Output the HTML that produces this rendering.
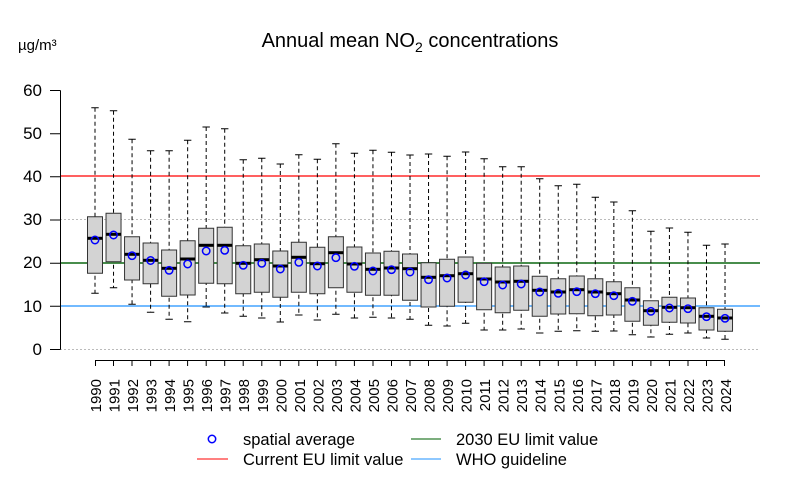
<!DOCTYPE html>
<html><head><meta charset="utf-8"><style>
body{margin:0;background:#fff}svg{display:block}
text{font-family:"Liberation Sans",Arial,sans-serif;fill:#000}
.w{stroke:#000;stroke-dasharray:4 3;fill:none}
.c{stroke:#000;fill:none}
.b{fill:#d3d3d3;stroke:#333}
.m{stroke:#000;stroke-width:3;fill:none}
.o{fill:none;stroke:#00f;stroke-width:1.5}
</style></head>
<body>
<svg width="800" height="500" viewBox="0 0 800 500" xmlns="http://www.w3.org/2000/svg">
<text x="410" y="47" font-size="20" text-anchor="middle">Annual mean NO<tspan font-size="14" dy="5">2</tspan><tspan dy="-5"> concentrations</tspan></text>
<text x="18" y="50" font-size="15">µg/m³</text>
<g stroke="#bbb" stroke-dasharray="2,2" stroke-width="1">
<line x1="60" x2="760" y1="219.5" y2="219.5"/><line x1="60" x2="760" y1="349.5" y2="349.5"/>
</g>
<line x1="60" x2="760" y1="176" y2="176" stroke="#f00" stroke-width="1.3"/>
<line x1="60" x2="760" y1="263" y2="263" stroke="#2e7d32" stroke-width="1.8"/>
<line x1="60" x2="760" y1="306" y2="306" stroke="#1e90ff" stroke-width="1.3"/>
<path d="M60.5 90.5V349.5M50 90.5H60.5M50 133.7H60.5M50 176.8H60.5M50 220H60.5M50 263.2H60.5M50 306.3H60.5M50 349.5H60.5" stroke="#000" fill="none"/>
<g font-size="17" text-anchor="end">
<text x="42" y="96">60</text><text x="42" y="139">50</text><text x="42" y="182">40</text><text x="42" y="225">30</text><text x="42" y="268">20</text><text x="42" y="312">10</text><text x="42" y="355">0</text>
</g>

<g transform="translate(95)"><path class="w" d="M0 107.7V293.3"/><path class="c" d="M-3.7 107.7h7.4M-3.7 293.3h7.4"/><path class="b" d="M-7.5 216.7H7.5V273.3H-7.5Z"/><path class="m" d="M-7.5 238.3h15"/><circle class="o" cy="240" r="3.7"/></g>
<g transform="translate(113.53)"><path class="w" d="M0 110.7V287.7"/><path class="c" d="M-3.7 110.7h7.4M-3.7 287.7h7.4"/><path class="b" d="M-7.5 213.3H7.5V261.7H-7.5Z"/><path class="m" d="M-7.5 234.3h15"/><circle class="o" cy="235" r="3.7"/></g>
<g transform="translate(132.06)"><path class="w" d="M0 139.3V304.3"/><path class="c" d="M-3.7 139.3h7.4M-3.7 304.3h7.4"/><path class="b" d="M-7.5 236.7H7.5V280H-7.5Z"/><path class="m" d="M-7.5 254.3h15"/><circle class="o" cy="255.7" r="3.7"/></g>
<g transform="translate(150.59)"><path class="w" d="M0 150.7V312.3"/><path class="c" d="M-3.7 150.7h7.4M-3.7 312.3h7.4"/><path class="b" d="M-7.5 243H7.5V283.7H-7.5Z"/><path class="m" d="M-7.5 260.3h15"/><circle class="o" cy="260.5" r="3.7"/></g>
<g transform="translate(169.12)"><path class="w" d="M0 150.7V319.3"/><path class="c" d="M-3.7 150.7h7.4M-3.7 319.3h7.4"/><path class="b" d="M-7.5 250H7.5V296.3H-7.5Z"/><path class="m" d="M-7.5 268.3h15"/><circle class="o" cy="270.3" r="3.7"/></g>
<g transform="translate(187.65)"><path class="w" d="M0 140.3V321.7"/><path class="c" d="M-3.7 140.3h7.4M-3.7 321.7h7.4"/><path class="b" d="M-7.5 240.7H7.5V295H-7.5Z"/><path class="m" d="M-7.5 259h15"/><circle class="o" cy="264" r="3.7"/></g>
<g transform="translate(206.18)"><path class="w" d="M0 127V307"/><path class="c" d="M-3.7 127h7.4M-3.7 307h7.4"/><path class="b" d="M-7.5 228.3H7.5V283.3H-7.5Z"/><path class="m" d="M-7.5 245.3h15"/><circle class="o" cy="251" r="3.7"/></g>
<g transform="translate(224.71)"><path class="w" d="M0 128.7V313"/><path class="c" d="M-3.7 128.7h7.4M-3.7 313h7.4"/><path class="b" d="M-7.5 227.3H7.5V283.7H-7.5Z"/><path class="m" d="M-7.5 245.3h15"/><circle class="o" cy="250.3" r="3.7"/></g>
<g transform="translate(243.24)"><path class="w" d="M0 159.7V316.3"/><path class="c" d="M-3.7 159.7h7.4M-3.7 316.3h7.4"/><path class="b" d="M-7.5 245.7H7.5V293.7H-7.5Z"/><path class="m" d="M-7.5 263.3h15"/><circle class="o" cy="265.3" r="3.7"/></g>
<g transform="translate(261.77)"><path class="w" d="M0 158.3V318"/><path class="c" d="M-3.7 158.3h7.4M-3.7 318h7.4"/><path class="b" d="M-7.5 244H7.5V292.3H-7.5Z"/><path class="m" d="M-7.5 259.7h15"/><circle class="o" cy="263.3" r="3.7"/></g>
<g transform="translate(280.3)"><path class="w" d="M0 164V322"/><path class="c" d="M-3.7 164h7.4M-3.7 322h7.4"/><path class="b" d="M-7.5 251H7.5V297.3H-7.5Z"/><path class="m" d="M-7.5 266h15"/><circle class="o" cy="269" r="3.7"/></g>
<g transform="translate(298.83)"><path class="w" d="M0 154.7V315"/><path class="c" d="M-3.7 154.7h7.4M-3.7 315h7.4"/><path class="b" d="M-7.5 242.3H7.5V292.3H-7.5Z"/><path class="m" d="M-7.5 257.3h15"/><circle class="o" cy="262.3" r="3.7"/></g>
<g transform="translate(317.36)"><path class="w" d="M0 159.3V320"/><path class="c" d="M-3.7 159.3h7.4M-3.7 320h7.4"/><path class="b" d="M-7.5 247.3H7.5V293.7H-7.5Z"/><path class="m" d="M-7.5 263.7h15"/><circle class="o" cy="266" r="3.7"/></g>
<g transform="translate(335.89)"><path class="w" d="M0 143.7V314.3"/><path class="c" d="M-3.7 143.7h7.4M-3.7 314.3h7.4"/><path class="b" d="M-7.5 236.7H7.5V287.7H-7.5Z"/><path class="m" d="M-7.5 252.7h15"/><circle class="o" cy="257.7" r="3.7"/></g>
<g transform="translate(354.42)"><path class="w" d="M0 153.3V318"/><path class="c" d="M-3.7 153.3h7.4M-3.7 318h7.4"/><path class="b" d="M-7.5 247H7.5V292.3H-7.5Z"/><path class="m" d="M-7.5 264h15"/><circle class="o" cy="266.3" r="3.7"/></g>
<g transform="translate(372.95)"><path class="w" d="M0 150.3V317.3"/><path class="c" d="M-3.7 150.3h7.4M-3.7 317.3h7.4"/><path class="b" d="M-7.5 253H7.5V295.3H-7.5Z"/><path class="m" d="M-7.5 269.3h15"/><circle class="o" cy="271" r="3.7"/></g>
<g transform="translate(391.48)"><path class="w" d="M0 152.3V318"/><path class="c" d="M-3.7 152.3h7.4M-3.7 318h7.4"/><path class="b" d="M-7.5 251.3H7.5V295.3H-7.5Z"/><path class="m" d="M-7.5 268h15"/><circle class="o" cy="269.7" r="3.7"/></g>
<g transform="translate(410.01)"><path class="w" d="M0 155V319.3"/><path class="c" d="M-3.7 155h7.4M-3.7 319.3h7.4"/><path class="b" d="M-7.5 254H7.5V300.3H-7.5Z"/><path class="m" d="M-7.5 268.7h15"/><circle class="o" cy="272" r="3.7"/></g>
<g transform="translate(428.54)"><path class="w" d="M0 154V325.3"/><path class="c" d="M-3.7 154h7.4M-3.7 325.3h7.4"/><path class="b" d="M-7.5 262.7H7.5V307H-7.5Z"/><path class="m" d="M-7.5 277.3h15"/><circle class="o" cy="279.7" r="3.7"/></g>
<g transform="translate(447.07)"><path class="w" d="M0 156.3V326"/><path class="c" d="M-3.7 156.3h7.4M-3.7 326h7.4"/><path class="b" d="M-7.5 259.3H7.5V306.3H-7.5Z"/><path class="m" d="M-7.5 275.7h15"/><circle class="o" cy="278" r="3.7"/></g>
<g transform="translate(465.6)"><path class="w" d="M0 152V323.3"/><path class="c" d="M-3.7 152h7.4M-3.7 323.3h7.4"/><path class="b" d="M-7.5 257H7.5V302.3H-7.5Z"/><path class="m" d="M-7.5 273.7h15"/><circle class="o" cy="275" r="3.7"/></g>
<g transform="translate(484.13)"><path class="w" d="M0 158.7V330"/><path class="c" d="M-3.7 158.7h7.4M-3.7 330h7.4"/><path class="b" d="M-7.5 263.3H7.5V309.7H-7.5Z"/><path class="m" d="M-7.5 279h15"/><circle class="o" cy="281.7" r="3.7"/></g>
<g transform="translate(502.66)"><path class="w" d="M0 166.7V330"/><path class="c" d="M-3.7 166.7h7.4M-3.7 330h7.4"/><path class="b" d="M-7.5 267H7.5V312.7H-7.5Z"/><path class="m" d="M-7.5 282h15"/><circle class="o" cy="285" r="3.7"/></g>
<g transform="translate(521.19)"><path class="w" d="M0 166.7V329"/><path class="c" d="M-3.7 166.7h7.4M-3.7 329h7.4"/><path class="b" d="M-7.5 266H7.5V310.3H-7.5Z"/><path class="m" d="M-7.5 281.3h15"/><circle class="o" cy="284" r="3.7"/></g>
<g transform="translate(539.72)"><path class="w" d="M0 178.7V333"/><path class="c" d="M-3.7 178.7h7.4M-3.7 333h7.4"/><path class="b" d="M-7.5 276.3H7.5V316.3H-7.5Z"/><path class="m" d="M-7.5 290.3h15"/><circle class="o" cy="292" r="3.7"/></g>
<g transform="translate(558.25)"><path class="w" d="M0 185.7V331.3"/><path class="c" d="M-3.7 185.7h7.4M-3.7 331.3h7.4"/><path class="b" d="M-7.5 278.7H7.5V314H-7.5Z"/><path class="m" d="M-7.5 292h15"/><circle class="o" cy="293.3" r="3.7"/></g>
<g transform="translate(576.78)"><path class="w" d="M0 184.3V330.7"/><path class="c" d="M-3.7 184.3h7.4M-3.7 330.7h7.4"/><path class="b" d="M-7.5 276H7.5V313.7H-7.5Z"/><path class="m" d="M-7.5 289.7h15"/><circle class="o" cy="291.7" r="3.7"/></g>
<g transform="translate(595.31)"><path class="w" d="M0 197.3V331.3"/><path class="c" d="M-3.7 197.3h7.4M-3.7 331.3h7.4"/><path class="b" d="M-7.5 278.7H7.5V315.7H-7.5Z"/><path class="m" d="M-7.5 292h15"/><circle class="o" cy="293.7" r="3.7"/></g>
<g transform="translate(613.84)"><path class="w" d="M0 202V331"/><path class="c" d="M-3.7 202h7.4M-3.7 331h7.4"/><path class="b" d="M-7.5 281.7H7.5V315H-7.5Z"/><path class="m" d="M-7.5 293.7h15"/><circle class="o" cy="295.7" r="3.7"/></g>
<g transform="translate(632.37)"><path class="w" d="M0 210.7V334.7"/><path class="c" d="M-3.7 210.7h7.4M-3.7 334.7h7.4"/><path class="b" d="M-7.5 287.7H7.5V321.3H-7.5Z"/><path class="m" d="M-7.5 300h15"/><circle class="o" cy="301.3" r="3.7"/></g>
<g transform="translate(650.9)"><path class="w" d="M0 231.3V337"/><path class="c" d="M-3.7 231.3h7.4M-3.7 337h7.4"/><path class="b" d="M-7.5 300.7H7.5V325.3H-7.5Z"/><path class="m" d="M-7.5 310.7h15"/><circle class="o" cy="311.3" r="3.7"/></g>
<g transform="translate(669.43)"><path class="w" d="M0 228V334.3"/><path class="c" d="M-3.7 228h7.4M-3.7 334.3h7.4"/><path class="b" d="M-7.5 297.3H7.5V322.3H-7.5Z"/><path class="m" d="M-7.5 307.3h15"/><circle class="o" cy="308" r="3.7"/></g>
<g transform="translate(687.96)"><path class="w" d="M0 232.3V333"/><path class="c" d="M-3.7 232.3h7.4M-3.7 333h7.4"/><path class="b" d="M-7.5 298H7.5V323H-7.5Z"/><path class="m" d="M-7.5 307.7h15"/><circle class="o" cy="308.7" r="3.7"/></g>
<g transform="translate(706.49)"><path class="w" d="M0 245.3V338"/><path class="c" d="M-3.7 245.3h7.4M-3.7 338h7.4"/><path class="b" d="M-7.5 307.7H7.5V330H-7.5Z"/><path class="m" d="M-7.5 316.3h15"/><circle class="o" cy="316.7" r="3.7"/></g>
<g transform="translate(725.02)"><path class="w" d="M0 244V339.3"/><path class="c" d="M-3.7 244h7.4M-3.7 339.3h7.4"/><path class="b" d="M-7.5 309.3H7.5V331.3H-7.5Z"/><path class="m" d="M-7.5 318h15"/><circle class="o" cy="318.3" r="3.7"/></g>

<path stroke="#000" fill="none" d="M95 360.5H725M95.5 360V366M113.5 360V366M132 360V366M150.6 360V366M169.1 360V366M187.6 360V366M206.2 360V366M224.7 360V366M243.2 360V366M261.8 360V366M280.3 360V366M298.8 360V366M317.4 360V366M335.9 360V366M354.4 360V366M373 360V366M391.5 360V366M410 360V366M428.5 360V366M447.1 360V366M465.6 360V366M484.1 360V366M502.7 360V366M521.2 360V366M539.7 360V366M558.3 360V366M576.8 360V366M595.3 360V366M613.8 360V366M632.4 360V366M650.9 360V366M669.4 360V366M688 360V366M706.5 360V366M724.5 360V366"/>
<g font-size="15" text-anchor="end">
<text transform="translate(101,379) rotate(-90)">1990</text>
<text transform="translate(119.53,379) rotate(-90)">1991</text>
<text transform="translate(138.06,379) rotate(-90)">1992</text>
<text transform="translate(156.59,379) rotate(-90)">1993</text>
<text transform="translate(175.12,379) rotate(-90)">1994</text>
<text transform="translate(193.65,379) rotate(-90)">1995</text>
<text transform="translate(212.18,379) rotate(-90)">1996</text>
<text transform="translate(230.71,379) rotate(-90)">1997</text>
<text transform="translate(249.24,379) rotate(-90)">1998</text>
<text transform="translate(267.77,379) rotate(-90)">1999</text>
<text transform="translate(286.3,379) rotate(-90)">2000</text>
<text transform="translate(304.83,379) rotate(-90)">2001</text>
<text transform="translate(323.36,379) rotate(-90)">2002</text>
<text transform="translate(341.89,379) rotate(-90)">2003</text>
<text transform="translate(360.42,379) rotate(-90)">2004</text>
<text transform="translate(378.95,379) rotate(-90)">2005</text>
<text transform="translate(397.48,379) rotate(-90)">2006</text>
<text transform="translate(416.01,379) rotate(-90)">2007</text>
<text transform="translate(434.54,379) rotate(-90)">2008</text>
<text transform="translate(453.07,379) rotate(-90)">2009</text>
<text transform="translate(471.6,379) rotate(-90)">2010</text>
<text transform="translate(490.13,379) rotate(-90)">2011</text>
<text transform="translate(508.66,379) rotate(-90)">2012</text>
<text transform="translate(527.19,379) rotate(-90)">2013</text>
<text transform="translate(545.72,379) rotate(-90)">2014</text>
<text transform="translate(564.25,379) rotate(-90)">2015</text>
<text transform="translate(582.78,379) rotate(-90)">2016</text>
<text transform="translate(601.31,379) rotate(-90)">2017</text>
<text transform="translate(619.84,379) rotate(-90)">2018</text>
<text transform="translate(638.37,379) rotate(-90)">2019</text>
<text transform="translate(656.9,379) rotate(-90)">2020</text>
<text transform="translate(675.43,379) rotate(-90)">2021</text>
<text transform="translate(693.96,379) rotate(-90)">2022</text>
<text transform="translate(712.49,379) rotate(-90)">2023</text>
<text transform="translate(731.02,379) rotate(-90)">2024</text>
</g>

<g font-size="16.5">
<circle cx="212" cy="439" r="3.7" fill="none" stroke="#00f" stroke-width="1.5"/>
<text x="243" y="445">spatial average</text>
<line x1="197" x2="228" y1="459" y2="459" stroke="#f00"/>
<text x="243" y="465">Current EU limit value</text>
<line x1="411" x2="441" y1="439" y2="439" stroke="#2e7d32" stroke-width="1.3"/>
<text x="456" y="445">2030 EU limit value</text>
<line x1="411" x2="441" y1="459" y2="459" stroke="#1e90ff"/>
<text x="456" y="465">WHO guideline</text>
</g>
</svg>
</body></html>
